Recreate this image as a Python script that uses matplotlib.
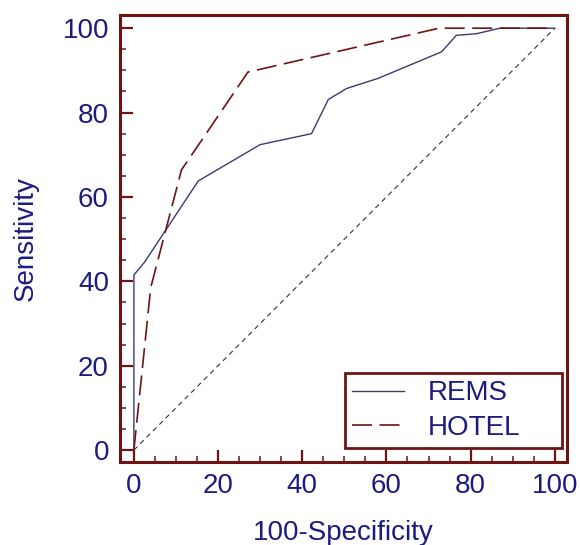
import matplotlib
matplotlib.use("Agg")
import matplotlib.pyplot as plt
from matplotlib.ticker import MultipleLocator

# ROC curves
rems_x = [0, 0, 2.5, 15.3, 30, 42.2, 46.2, 50.5, 58, 73.1, 76.6, 81.4, 87, 100]
rems_y = [0, 41.5, 44.5, 63.8, 72.4, 75.0, 83.1, 85.7, 88.1, 94.4, 98.3, 98.7, 100, 100]

hotel_x = [0, 4, 11.3, 27.1, 72.5, 100]
hotel_y = [0, 38.5, 66.4, 89.6, 100, 100]

diag_x = [0, 100]
diag_y = [0, 100]

ticks = [0, 20, 40, 60, 80, 100]

navy = "#1c1c80"
darkred = "#6e1414"

plt.rcParams['font.family'] = ['Liberation Sans', 'DejaVu Sans']

fig = plt.figure(figsize=(5.8, 5.45), dpi=100)
ax = fig.add_axes([120/580, 1 - 462.3/545, 447/580, 447.6/545])

ax.plot(diag_x, diag_y, color="#333333", lw=0.8, ls=(0, (4.5, 3.6)))
ax.plot(rems_x, rems_y, color="#3a3a74", lw=1.0, label="REMS")
ax.plot(hotel_x, hotel_y, color=darkred, lw=1.2, ls=(0, (12, 4.5)), label="HOTEL")

ax.set_xlim(-3.3, 102.9)
ax.set_ylim(-2.9, 103.2)
ax.set_xticks(ticks)
ax.set_yticks(ticks)
ax.xaxis.set_minor_locator(MultipleLocator(5))
ax.yaxis.set_minor_locator(MultipleLocator(5))

for s in ax.spines.values():
    s.set_color(darkred)
    s.set_linewidth(2.2)

ax.tick_params(which="major", direction="in", length=9, width=1.6, color=darkred,
               labelsize=20, labelcolor=navy, pad=8)
ax.tick_params(which="minor", direction="in", length=4.5, width=1.1, color=darkred)
ax.tick_params(top=False, right=False, which="both")

ax.set_xlabel("100-Specificity", fontsize=20, color=navy, labelpad=15)
ax.set_ylabel("Sensitivity", fontsize=20, color=navy, labelpad=17)

leg = ax.legend(loc="lower left", bbox_to_anchor=(345/580, 1 - 448/545, 217/580, 85/545),
                bbox_transform=fig.transFigure, mode="expand", borderaxespad=0,
                fontsize=20, handlelength=1.86, handletextpad=0.85, labelspacing=0.3,
                borderpad=0.26, fancybox=False, framealpha=1)
leg.get_frame().set_edgecolor(darkred)
leg.get_frame().set_linewidth(2)
for t in leg.get_texts():
    t.set_color(navy)

fig.savefig("out.png", dpi=100)
